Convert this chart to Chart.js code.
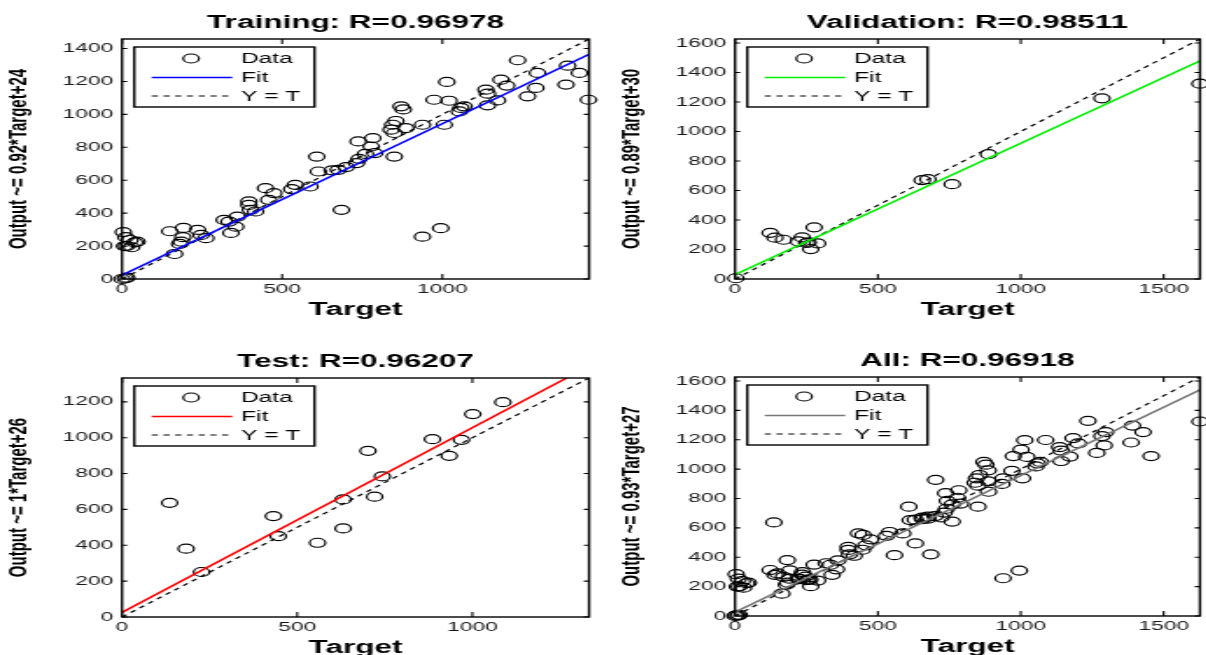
<!DOCTYPE html>
<html>
<head>
<meta charset="utf-8" />
<script src="https://cdn.jsdelivr.net/npm/chart.js@4.4.1/dist/chart.umd.min.js"></script>
<style>
html, body { margin: 0; padding: 0; background: #fff; }
body { width: 1206px; height: 655px; overflow: hidden; position: relative; }
.panel { position: absolute; transform-origin: 0 0; }
</style>
</head>
<body>
<div class="panel" id="p1"><canvas id="c1"></canvas></div>
<div class="panel" id="p2"><canvas id="c2"></canvas></div>
<div class="panel" id="p3"><canvas id="c3"></canvas></div>
<div class="panel" id="p4"><canvas id="c4"></canvas></div>

<script>
// values
const trainTarget = [0, 10, 15, 4, 12, 25, 40, 15, 30, 47, 8, 149, 192, 236, 247, 262, 190, 185, 180, 164,
	319, 334, 360, 340, 355, 396, 396, 401, 417, 448, 474, 458, 530, 541, 587, 608, 613, 656, 675, 685,
	700, 732, 740, 737, 783, 778, 789, 760, 850, 845, 840, 850, 855, 871, 878, 886, 938, 938, 995, 974,
	1014, 1021, 1006, 1058, 1068, 1053, 1136, 1141, 1141, 1172, 1183, 1201, 1235, 1266, 1292, 1297, 1391, 1386, 1428, 1456];
const trainOutput = [0, 3, 8, 285, 254, 237, 223, 201, 193, 227, 200, 290, 310, 298, 268, 248, 254, 227, 213, 152,
	359, 349, 379, 280, 318, 471, 450, 420, 410, 552, 522, 481, 546, 572, 562, 744, 653, 660, 663, 420,
	680, 704, 730, 836, 856, 805, 765, 760, 744, 937, 907, 887, 960, 1049, 1030, 917, 937, 257, 309, 1089,
	1197, 1083, 937, 1039, 1049, 1018, 1150, 1126, 1055, 1085, 1211, 1175, 1329, 1110, 1161, 1252, 1296, 1181, 1252, 1089];

const valTarget = [3, 123, 140, 170, 222, 235, 251, 256, 265, 277, 289, 655, 675, 760, 887, 1284, 1627];
const valOutput = [5, 313, 280, 266, 255, 282, 244, 248, 203, 350, 241, 670, 677, 643, 846, 1225, 1324];

const testTarget = [136, 183, 227, 432, 446, 558, 631, 631, 702, 721, 743, 886, 934, 969, 1001, 1087];
const testOutput = [637, 381, 251, 563, 451, 414, 656, 494, 927, 671, 784, 992, 899, 988, 1132, 1198];

const allTarget = trainTarget.concat(valTarget, testTarget);
const allOutput = trainOutput.concat(valOutput, testOutput);

// [slope, intercept]
const trainFit = [0.92, 24];
const valFit = [0.89, 30];
const testFit = [1.03, 26];
const allFit = [0.93, 27];

const titles = ['Training: R=0.96978', 'Validation: R=0.98511', 'Test: R=0.96207', 'All: R=0.96918'];
const yLabels = ['Output ~= 0.92*Target+24', 'Output ~= 0.89*Target+30', 'Output ~= 1*Target+26', 'Output ~= 0.93*Target+27'];
const axisMax = [1458, 1627, 1333, 1627];
const xTickValues = [0, 500, 1000, 1500];
const yTickValues = [0, 200, 400, 600, 800, 1000, 1200, 1400, 1600];
const legendLabels = ['Data', 'Fit', 'Y = T'];

// the reference picture is stretched sideways, so each panel is drawn narrow and scaled in x
const STRETCH = 1.75;
const FONT = "'Liberation Sans', Arial, sans-serif";
Chart.defaults.font.family = FONT;

const panels = [
	{ box: 'p1', cv: 'c1', xs: trainTarget, ys: trainOutput, fit: trainFit, color: '#0000ff', plot: [122, 592, 39, 279] },
	{ box: 'p2', cv: 'c2', xs: valTarget, ys: valOutput, fit: valFit, color: '#00ee00', plot: [735, 1203, 39, 279] },
	{ box: 'p3', cv: 'c3', xs: testTarget, ys: testOutput, fit: testFit, color: '#ff0000', plot: [122, 592, 378, 617] },
	{ box: 'p4', cv: 'c4', xs: allTarget, ys: allOutput, fit: allFit, color: '#777777', plot: [735, 1203, 377, 616] }
];

// box round the axes, inward ticks, matlab style legend
const matlabFrame = {
	id: 'matlabFrame',
	afterDatasetsDraw(chart) {
		const { ctx, chartArea: a, scales } = chart;
		ctx.save();
		ctx.strokeStyle = '#000';
		ctx.lineWidth = 1.1;
		ctx.beginPath();
		scales.x.ticks.forEach(t => {
			const px = scales.x.getPixelForValue(t.value);
			ctx.moveTo(px, a.bottom); ctx.lineTo(px, a.bottom - 5);
			ctx.moveTo(px, a.top); ctx.lineTo(px, a.top + 5);
		});
		scales.y.ticks.forEach(t => {
			const py = scales.y.getPixelForValue(t.value);
			ctx.moveTo(a.left, py); ctx.lineTo(a.left + 3, py);
			ctx.moveTo(a.right, py); ctx.lineTo(a.right - 3, py);
		});
		ctx.stroke();
		ctx.lineWidth = 1.4;
		ctx.strokeRect(a.left, a.top, a.right - a.left, a.bottom - a.top);

		// legend
		const lx = a.left + 7, ly = a.top + 8, lw = 103, lh = 60;
		ctx.fillStyle = '#fff';
		ctx.fillRect(lx, ly, lw, lh);
		ctx.strokeRect(lx, ly, lw, lh);
		const ds = chart.data.datasets;
		const rows = [ds[2], ds[0], ds[1]];
		const rowY = [19.5, 38.5, 57];
		ctx.font = '14px ' + FONT;
		ctx.textBaseline = 'middle';
		rows.forEach((d, i) => {
			const y = a.top + rowY[i];
			if (d.showLine === false) {
				ctx.beginPath();
				ctx.lineWidth = d.borderWidth;
				ctx.strokeStyle = '#000';
				ctx.arc(a.left + 39.5, y, 4.5, 0, Math.PI * 2);
				ctx.stroke();
			} else {
				ctx.beginPath();
				ctx.lineWidth = d.borderWidth;
				ctx.strokeStyle = d.borderColor;
				ctx.setLineDash(d.borderDash || []);
				ctx.moveTo(a.left + 17, y);
				ctx.lineTo(a.left + 63, y);
				ctx.stroke();
				ctx.setLineDash([]);
			}
			ctx.fillStyle = '#000';
			ctx.fillText(legendLabels[i], a.left + 68, y + 1);
		});
		ctx.restore();
	}
};

panels.forEach((p, i) => {
	const div = document.getElementById(p.box);
	const left = p.plot[0] - 122;
	const top = p.plot[2] - 39;
	div.style.left = left + 'px';
	div.style.top = top + 'px';
	div.style.width = ((p.plot[1] - left) / STRETCH + 4) + 'px';
	div.style.height = (p.plot[3] - top + 48) + 'px';
	div.style.transform = 'scaleX(' + STRETCH + ')';

	const lim = axisMax[i];
	const [m, b] = p.fit;

	new Chart(document.getElementById(p.cv), {
		type: 'scatter',
		data: {
			datasets: [
				{ type: 'line', label: legendLabels[1], data: [{ x: 0, y: b }, { x: lim, y: m * lim + b }],
				  borderColor: p.color, borderWidth: 1.6, pointRadius: 0 },
				{ type: 'line', label: legendLabels[2], data: [{ x: 0, y: 0 }, { x: lim, y: lim }],
				  borderColor: '#000', borderWidth: 1.2, borderDash: [3.5, 3.2], pointRadius: 0 },
				{ label: legendLabels[0], data: p.xs.map((x, k) => ({ x: x, y: p.ys[k] })), showLine: false,
				  pointStyle: 'circle', pointRadius: 4.5, borderWidth: 1.2, borderColor: '#000',
				  backgroundColor: 'rgba(0,0,0,0)', clip: false }
			]
		},
		options: {
			responsive: true,
			maintainAspectRatio: false,
			animation: false,
			events: [],
			layout: { padding: { left: 0, right: 4, top: 0, bottom: 0 } },
			plugins: {
				legend: { display: false },
				tooltip: { enabled: false },
				title: {
					display: true, text: titles[i], fullSize: false, color: '#000',
					font: { size: 18, weight: 'bold', lineHeight: 1.2 },
					padding: { top: 12, bottom: 5.4 }
				}
			},
			scales: {
				x: {
					type: 'linear', min: 0, max: lim,
					afterBuildTicks: s => { s.ticks = xTickValues.filter(v => v <= lim).map(v => ({ value: v })); },
					afterFit: s => { s.height = 48; },
					grid: { display: false, drawTicks: false },
					border: { display: false },
					ticks: { padding: 3, color: '#1a1a1a', font: { size: 13 },
						maxRotation: 0, autoSkip: false, callback: v => String(v) },
					title: { display: true, text: 'Target', color: '#000', font: { size: 18, weight: 'bold', lineHeight: 1.2 },
						padding: { top: 0, bottom: 6 } }
				},
				y: {
					type: 'linear', min: 0, max: lim,
					afterBuildTicks: s => { s.ticks = yTickValues.filter(v => v <= lim).map(v => ({ value: v })); },
					afterFit: s => { s.width = 122 / STRETCH; },
					grid: { display: false, drawTicks: false },
					border: { display: false },
					ticks: { padding: 5, color: '#1a1a1a', font: { size: 13 },
						autoSkip: false, callback: v => String(v) },
					title: { display: true, text: yLabels[i], color: '#000', font: { size: 15, weight: 'bold', lineHeight: 1.2 },
						padding: { top: 2, bottom: 0 } }
				}
			}
		},
		plugins: [matlabFrame]
	});
});
</script>
</body>
</html>
